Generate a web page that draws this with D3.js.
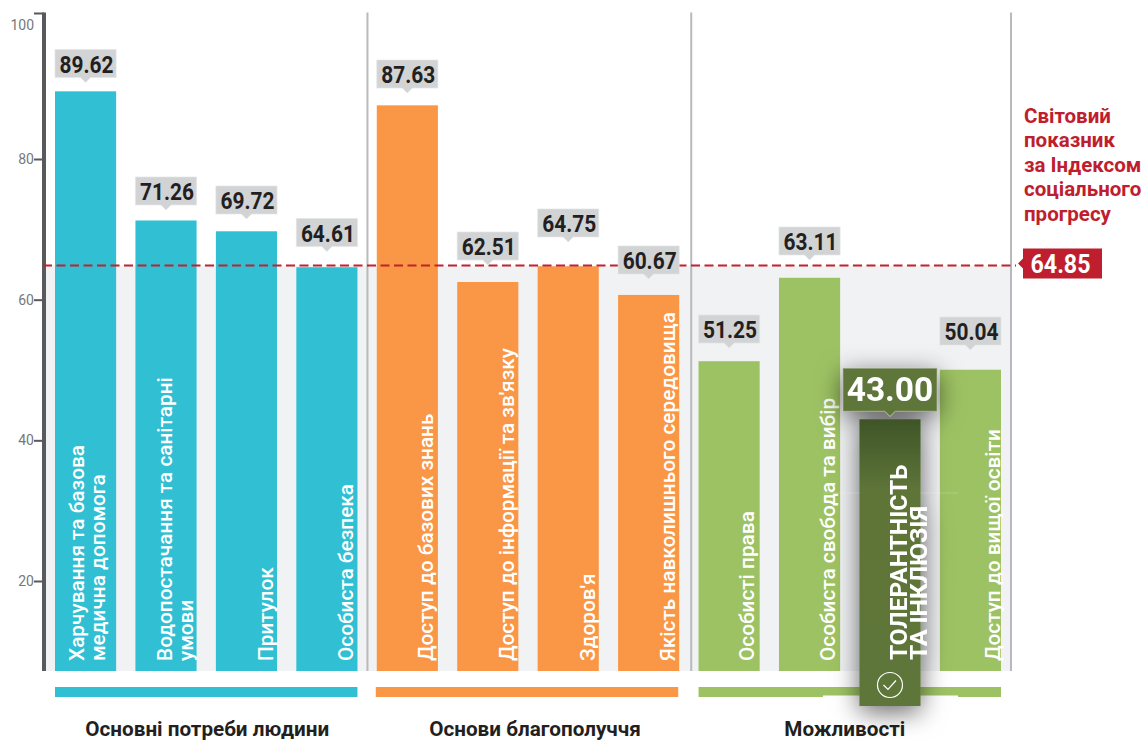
<!DOCTYPE html>
<html lang="uk">
<head>
<meta charset="UTF-8">
<title>Індекс соціального прогресу</title>
<script src="https://d3js.org/d3.v7.min.js"></script>
<style>
    html, body { margin: 0; padding: 0; background: #fff; }
    svg { display: block; }
    text { font-family: Roboto, sans-serif; }
    .tick text { fill: #77787b; font-size: 14px; }
    .bar-label { fill: #fff; font-size: 20.8px; font-weight: 500; }
    .value { fill: #231f20; font-size: 24.5px; font-weight: 700; text-anchor: middle; }
    .group-label { fill: #231f20; font-size: 20.7px; font-weight: 700; text-anchor: middle; }
    .world-label { fill: #be1e2d; font-size: 20.5px; font-weight: 700; }
</style>
</head>
<body>
<script>
const categories = [
    ["Харчування та базова", "медична допомога"],
    ["Водопостачання та санітарні", "умови"],
    ["Притулок"],
    ["Особиста безпека"],
    ["Доступ до базових знань"],
    ["Доступ до інформації та зв'язку"],
    ["Здоров'я"],
    ["Якість навколишнього середовища"],
    ["Особисті права"],
    ["Особиста свобода та вибір"],
    ["ТОЛЕРАНТНІСТЬ", "ТА ІНКЛЮЗІЯ"],
    ["Доступ до вищої освіти"]
];
const values = [89.62, 71.26, 69.72, 64.61, 87.63, 62.51, 64.75, 60.67, 51.25, 63.11, 43.00, 50.04];
const groupNames = ["Основні потреби людини", "Основи благополуччя", "Можливості"];
const groupColors = ["#30bfd3", "#f99746", "#9dc263"];
const tickValues = [20, 40, 60, 80, 100];
const worldValue = 64.85;
const worldLabel = ["Світовий", "показник", "за Індексом", "соціального", "прогресу"];
const highlighted = 10;

const width = 1145, height = 740;
const plotBottom = 671, plotTop = 12.5, plotLeft = 46;

const svg = d3.select("body").append("svg")
    .attr("width", width)
    .attr("height", height);

const defs = svg.append("defs");
const shadow = defs.append("filter").attr("id", "shadow")
    .attr("filterUnits", "userSpaceOnUse")
    .attr("x", 770).attr("y", 320).attr("width", 240).attr("height", 420);
shadow.append("feDropShadow")
    .attr("dx", 0).attr("dy", 6).attr("stdDeviation", 13)
    .attr("flood-color", "#000").attr("flood-opacity", 0.6);
const grad = defs.append("linearGradient").attr("id", "hl")
    .attr("x1", 0).attr("x2", 0).attr("y1", 0).attr("y2", 1);
grad.append("stop").attr("offset", "0%").attr("stop-color", "#3f5527");
grad.append("stop").attr("offset", "25%").attr("stop-color", "#5e7539");
grad.append("stop").attr("offset", "100%").attr("stop-color", "#5f763a");

const x = d3.scaleBand()
    .domain(d3.range(values.length))
    .range([55, 1001])
    .paddingInner(0.24);

const y = d3.scaleLinear()
    .domain([20, 80])
    .range([581, 159]);

const groupOf = i => Math.floor(i / 4);
const plainBars = d3.range(values.length).filter(i => i !== highlighted);

// background below the world value
svg.append("rect")
    .attr("x", plotLeft).attr("y", y(worldValue))
    .attr("width", 1012 - plotLeft).attr("height", plotBottom - y(worldValue))
    .attr("fill", "#f1f2f4");

// group dividers
svg.selectAll(".divider")
    .data([3, 7, 11])
    .enter().append("line")
    .attr("class", "divider")
    .attr("x1", d => x(d) + x.bandwidth() + (d === 7 ? 12 : 10))
    .attr("x2", d => x(d) + x.bandwidth() + (d === 7 ? 12 : 10))
    .attr("y1", plotTop).attr("y2", plotBottom)
    .attr("stroke", "#b8b9bd").attr("stroke-width", 2);

// axis
const axis = svg.append("g")
    .attr("transform", `translate(${plotLeft - 2},0)`)
    .call(d3.axisLeft(y).tickValues(tickValues).tickSize(10).tickPadding(0));
axis.select(".domain").remove();
axis.selectAll(".tick line").attr("stroke", "#58595b").attr("stroke-width", 2);
axis.selectAll(".tick").filter(d => d === 100)
    .attr("transform", `translate(0,${plotTop + 1})`)
    .select("text").attr("dy", "1.2em");
svg.append("rect")
    .attr("x", plotLeft - 4).attr("y", plotTop)
    .attr("width", 4).attr("height", plotBottom - plotTop)
    .attr("fill", "#58595b");

// bars
svg.selectAll(".bar")
    .data(plainBars)
    .enter().append("rect")
    .attr("class", "bar")
    .attr("x", i => x(i))
    .attr("y", i => y(values[i]))
    .attr("width", x.bandwidth())
    .attr("height", i => plotBottom - y(values[i]))
    .attr("fill", i => groupColors[groupOf(i)]);

// group strips and names
const groups = svg.selectAll(".group")
    .data(groupNames)
    .enter().append("g")
    .attr("class", "group");
groups.append("rect")
    .attr("x", (d, i) => x(i * 4) - (i === 1 ? 1 : 0))
    .attr("y", 687)
    .attr("width", (d, i) => x(i * 4 + 3) + x.bandwidth() - x(i * 4))
    .attr("height", 10)
    .attr("fill", (d, i) => groupColors[i]);
groups.append("text")
    .attr("class", "group-label")
    .attr("x", (d, i) => (x(i * 4) + x(i * 4 + 3) + x.bandwidth()) / 2 + [1, 7, -5][i])
    .attr("y", 736)
    .text(d => d);

// white sliver under the highlighted bar, as in the source
svg.append("rect")
    .attr("x", 823).attr("y", 695.5)
    .attr("width", 135).attr("height", 2)
    .attr("fill", "#fff");

// world value line
svg.append("line")
    .attr("x1", plotLeft - 3).attr("x2", 1016)
    .attr("y1", y(worldValue)).attr("y2", y(worldValue))
    .attr("stroke", "#c4202f").attr("stroke-width", 2)
    .attr("stroke-dasharray", "9,4.5");

// value chips
function chip(g, cx, boxTop, w, h, fill, stroke) {
    g.append("path")
        .attr("d", `M${cx - w / 2},${boxTop}h${w}v${h}h${-w / 2 + 5}l-5,5l-5,-5H${cx - w / 2}Z`)
        .attr("fill", fill)
        .attr("stroke", stroke)
        .attr("stroke-width", 0.7);
}
// distance from bar top to chip top, these differ bar by bar in the source
const chipGap = {0: 41.8, 1: 43.5, 2: 45.3, 3: 48.7, 4: 45.3, 5: 50, 6: 57.3, 7: 49, 8: 46.2, 9: 50.8, 11: 52.7};
plainBars.forEach(i => {
    const v = values[i];
    const cx = x(i) + x.bandwidth() / 2;
    const g = svg.append("g");
    const boxTop = y(v) - chipGap[i];
    chip(g, cx, boxTop, x.bandwidth(), 28, "#d1d3d4", "#e4e5e7");
    g.append("text")
        .attr("class", "value")
        .attr("x", cx + 1).attr("y", boxTop + 23)
        .attr("textLength", 54).attr("lengthAdjust", "spacingAndGlyphs")
        .text(v.toFixed(2));
});

// rotated bar labels
const labelNudge = {0: -7, 1: 1, 4: -1, 8: -2, 9: -1, 11: 3};
plainBars.forEach(i => {
    const lines = categories[i];
    const base = x(i) + 57 + (labelNudge[i] || 0);
    lines.forEach((line, j) => {
        const bx = base + (j - (lines.length - 1)) * 21.5;
        svg.append("text")
            .attr("class", "bar-label")
            .attr("transform", `translate(${bx},661) rotate(-90)`)
            .text(line);
    });
});

// highlighted bar
const hx = x(highlighted), hw = x.bandwidth(), hcx = hx + hw / 2;
const hg = svg.append("g").attr("filter", "url(#shadow)");
hg.append("rect")
    .attr("x", hx).attr("y", y(values[highlighted]))
    .attr("width", hw).attr("height", 706 - y(values[highlighted]))
    .attr("fill", "url(#hl)");
chip(hg, hcx, y(values[highlighted]) - 51, 94, 43, "#5f763a", "#aab29a");
hg.append("text")
    .attr("x", hcx).attr("y", y(values[highlighted]) - 18)
    .attr("text-anchor", "middle")
    .attr("fill", "#fff")
    .attr("font-size", 33.5).attr("font-weight", 700)
    .text(values[highlighted].toFixed(2));
categories[highlighted].forEach((line, j) => {
    hg.append("text")
        .attr("transform", `translate(${hx + 48 + j * 20},660) rotate(-90)`)
        .attr("fill", "#fff")
        .attr("font-size", 24.5).attr("font-weight", 700)
        .text(line);
});
hg.append("circle")
    .attr("cx", hcx).attr("cy", 685).attr("r", 12.5)
    .attr("fill", "none").attr("stroke", "#fff").attr("stroke-width", 1.2);
hg.append("path")
    .attr("d", `M${hcx - 6.5},685l4.5,4.5l8,-9`)
    .attr("fill", "none").attr("stroke", "#fff").attr("stroke-width", 1.2);

// faint seam in the shadow
svg.append("line")
    .attr("x1", 823).attr("x2", hx)
    .attr("y1", 493).attr("y2", 493)
    .attr("stroke", "#fff").attr("stroke-opacity", 0.2);
svg.append("line")
    .attr("x1", hx + hw).attr("x2", 958)
    .attr("y1", 493).attr("y2", 493)
    .attr("stroke", "#fff").attr("stroke-opacity", 0.2);

// world value label
svg.selectAll(".world-label")
    .data(worldLabel)
    .enter().append("text")
    .attr("class", "world-label")
    .attr("x", 1024)
    .attr("y", (d, i) => 122.5 + i * 24.6)
    .text(d => d);
const boxY = y(worldValue) - 17;
svg.append("path")
    .attr("d", `M1023,${boxY}h79v30h-79v-10l-5,-5l5,-5Z`)
    .attr("fill", "#be1e2d");
svg.append("text")
    .attr("x", 1060.5).attr("y", boxY + 24)
    .attr("text-anchor", "middle")
    .attr("fill", "#fff")
    .attr("font-size", 25).attr("font-weight", 700)
    .attr("textLength", 60).attr("lengthAdjust", "spacingAndGlyphs")
    .text(worldValue.toFixed(2));
</script>
</body>
</html>
